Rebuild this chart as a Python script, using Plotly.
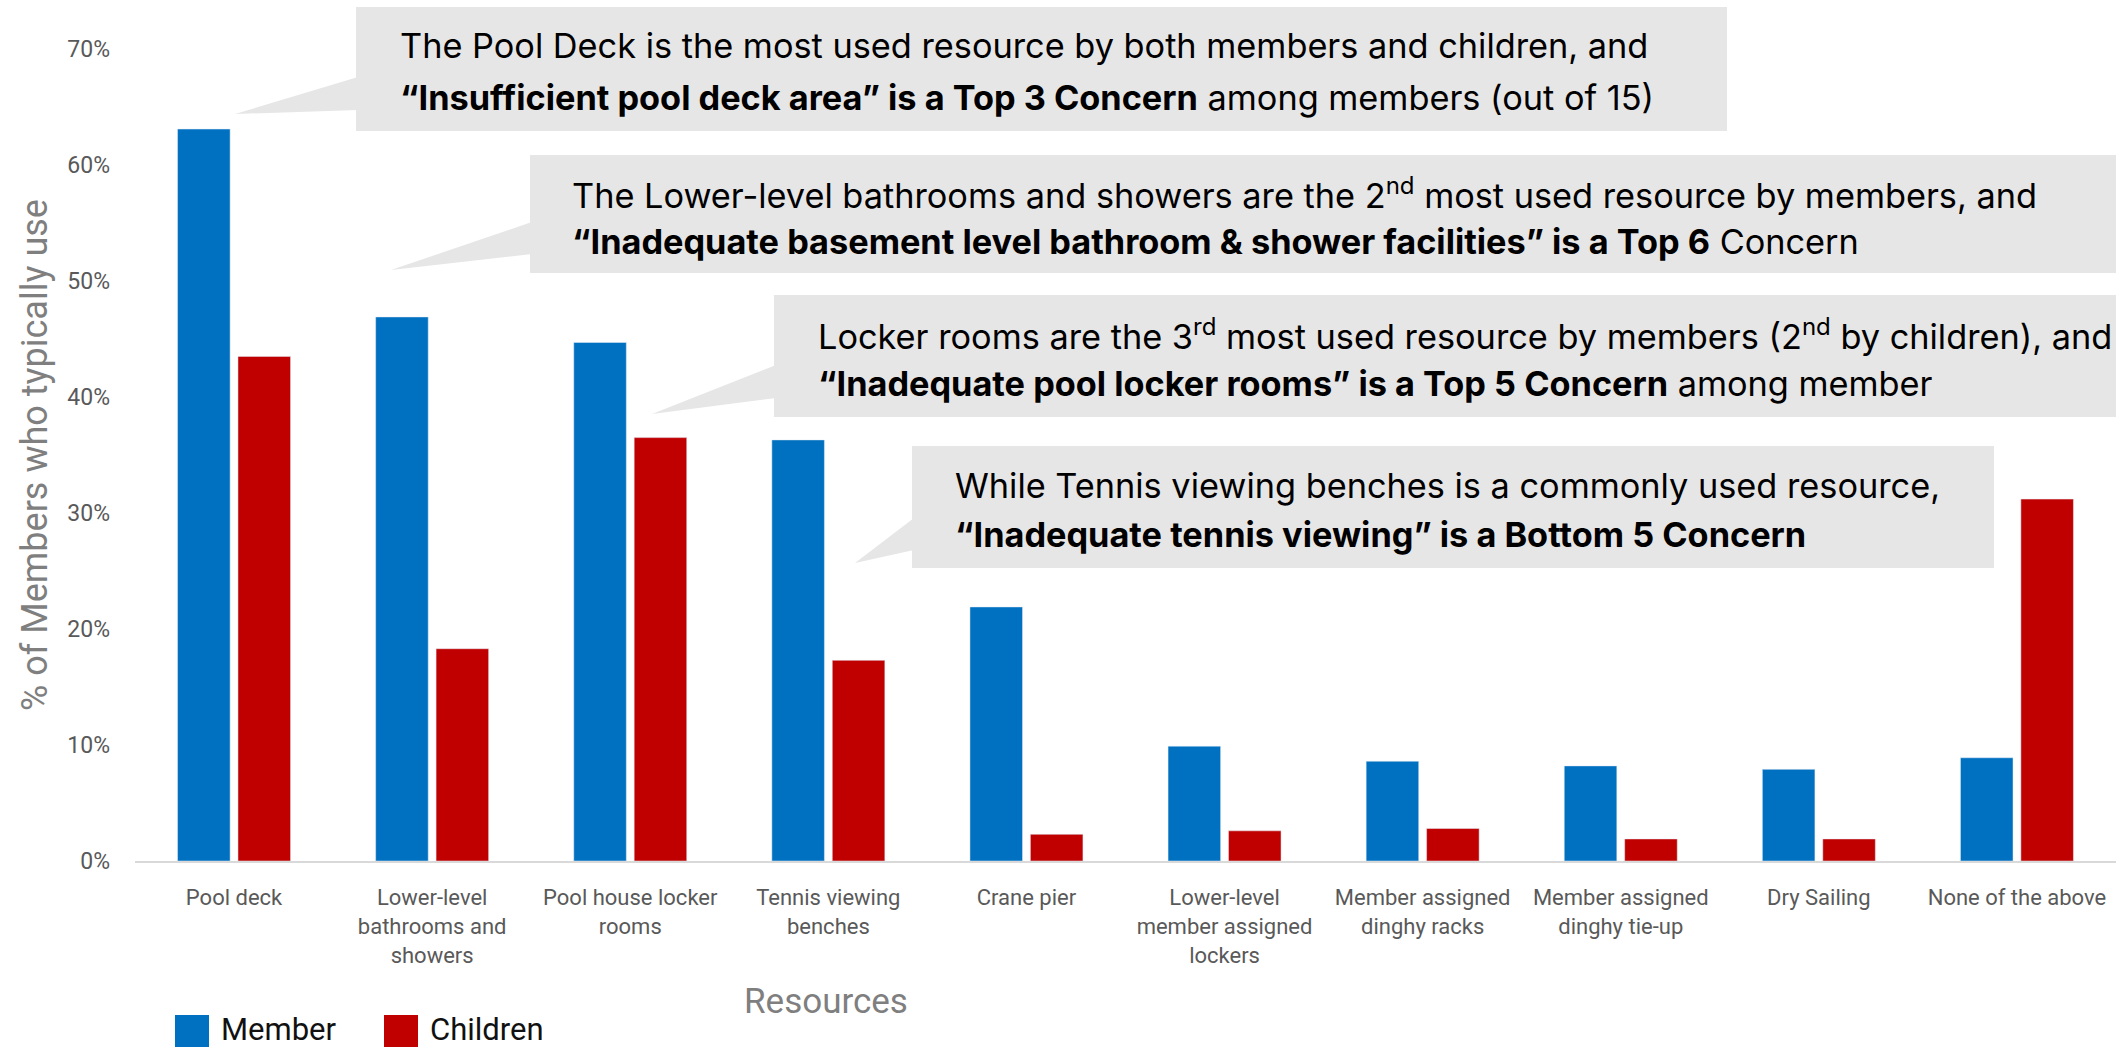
import plotly.graph_objects as go

# data (% of members who typically use)
resources = ["Pool deck", "Lower-level<br>bathrooms and<br>showers", "Pool house locker<br>rooms",
             "Tennis viewing<br>benches", "Crane pier", "Lower-level<br>member assigned<br>lockers",
             "Member assigned<br>dinghy racks", "Member assigned<br>dinghy tie-up", "Dry Sailing",
             "None of the above"]
member = [63.1, 46.9, 44.7, 36.3, 21.9, 9.9, 8.6, 8.2, 7.9, 8.9]
children = [43.5, 18.3, 36.5, 17.3, 2.3, 2.6, 2.8, 1.9, 1.9, 31.2]

W, H = 2116, 1047
L, R, T, B = 135, 0, 49, 186
PW, PH = W - L - R, H - T - B


def px(x):
    return (x - L) / PW


def py(y):
    return (H - B - y) / PH


BLUE = "#0070C0"
RED = "#C00000"
BOX = "#E7E6E6"
FONT = "Roboto"
CALLOUT_FONT = "Inter"

fig = go.Figure()
fig.add_trace(go.Bar(x=resources, y=member, name="Member", marker_color=BLUE, showlegend=False))
fig.add_trace(go.Bar(x=resources, y=children, name="Children", marker_color=RED, showlegend=False))

fig.update_layout(
    width=W, height=H,
    margin=dict(l=L, r=R, t=T, b=B, autoexpand=False),
    plot_bgcolor="white", paper_bgcolor="white",
    barmode="group", bargap=0.39, bargroupgap=0.13,
    font=dict(family=FONT, color="#595959"),
)
fig.update_yaxes(range=[0, 70], dtick=10, ticksuffix="%", showgrid=False, zeroline=False,
                 showline=False, automargin=False,
                 tickfont=dict(size=23, color="#595959"), ticklabelstandoff=24)
fig.update_xaxes(showline=True, linecolor="#D9D9D9", linewidth=2, ticks="", automargin=False,
                 tickfont=dict(size=22, color="#595959"), ticklabelstandoff=16)

# axis titles
fig.add_annotation(text="% of Members who typically use", textangle=-90, x=px(35), y=0.5,
                   xref="paper", yref="paper", xanchor="center", yanchor="middle",
                   showarrow=False, font=dict(size=36, color="#7F7F7F"))
fig.add_annotation(text="Resources", x=px(826), y=py(1001), xref="paper", yref="paper",
                   xanchor="center", yanchor="middle",
                   showarrow=False, font=dict(size=35, color="#7F7F7F"))

# legend drawn by hand (bigger swatches than plotly's)
for x0, color, label in [(175, BLUE, "Member"), (384, RED, "Children")]:
    fig.add_shape(type="rect", xref="paper", yref="paper", x0=px(x0), x1=px(x0 + 34),
                  y0=py(1015), y1=py(1050), fillcolor=color, line_width=0)
    fig.add_annotation(text=label, x=px(x0 + 44), y=py(1029), xref="paper", yref="paper",
                       xanchor="left", yanchor="middle", showarrow=False,
                       font=dict(size=31, color="#111111"))

# callout boxes: (box x0, x1, y0, y1, wedge tip, wedge top, wedge bottom)
callouts = [
    (356, 1727, 7, 131, (235, 114), 77, 110),
    (530, 2120, 155, 273, (391, 270), 222, 254),
    (774, 2120, 295, 417, (652, 414), 365, 398),
    (912, 1994, 446, 568, (855, 563), 518, 550),
]
for x0, x1, y0, y1, tip, wt, wb in callouts:
    path = "M {} {} L {} {} L {} {} Z".format(px(tip[0]), py(tip[1]), px(x0 + 2), py(wt),
                                             px(x0 + 2), py(wb))
    fig.add_shape(type="path", path=path, xref="paper", yref="paper", fillcolor=BOX, line_width=0)
    fig.add_shape(type="rect", xref="paper", yref="paper", x0=px(x0), x1=px(x1), y0=py(y1),
                  y1=py(y0), fillcolor=BOX, line_width=0)

lines = [
    (398, 46, "The Pool Deck is the most used resource by both members and children, and"),
    (398, 97, "<b>“Insufficient pool deck area” is a Top 3 Concern</b> among members (out of 15)"),
    (570, 193, "The Lower-level bathrooms and showers are the 2<sup>nd</sup> most used resource by members, and"),
    (570, 242, "<b>“Inadequate basement level bathroom &amp; shower facilities” is a Top 6</b> Concern"),
    (816, 335, "Locker rooms are the 3<sup>rd</sup> most used resource by members (2<sup>nd</sup> by children), and"),
    (816, 383, "<b>“Inadequate pool locker rooms” is a Top 5 Concern</b> among member"),
    (953, 486, "While Tennis viewing benches is a commonly used resource,"),
    (953, 534, "<b>“Inadequate tennis viewing” is a Bottom 5 Concern</b>"),
]
for x, y, txt in lines:
    fig.add_annotation(text=txt, x=px(x), y=py(y), xref="paper", yref="paper", xanchor="left",
                       yanchor="middle", align="left", showarrow=False,
                       font=dict(size=34.3, color="#000000", family=CALLOUT_FONT))

# drop the page's default body margin so the figure sits at the window's corner
fig.write_html("out.html", config={"displayModeBar": False},
               post_script="document.body.style.margin='0px';")
